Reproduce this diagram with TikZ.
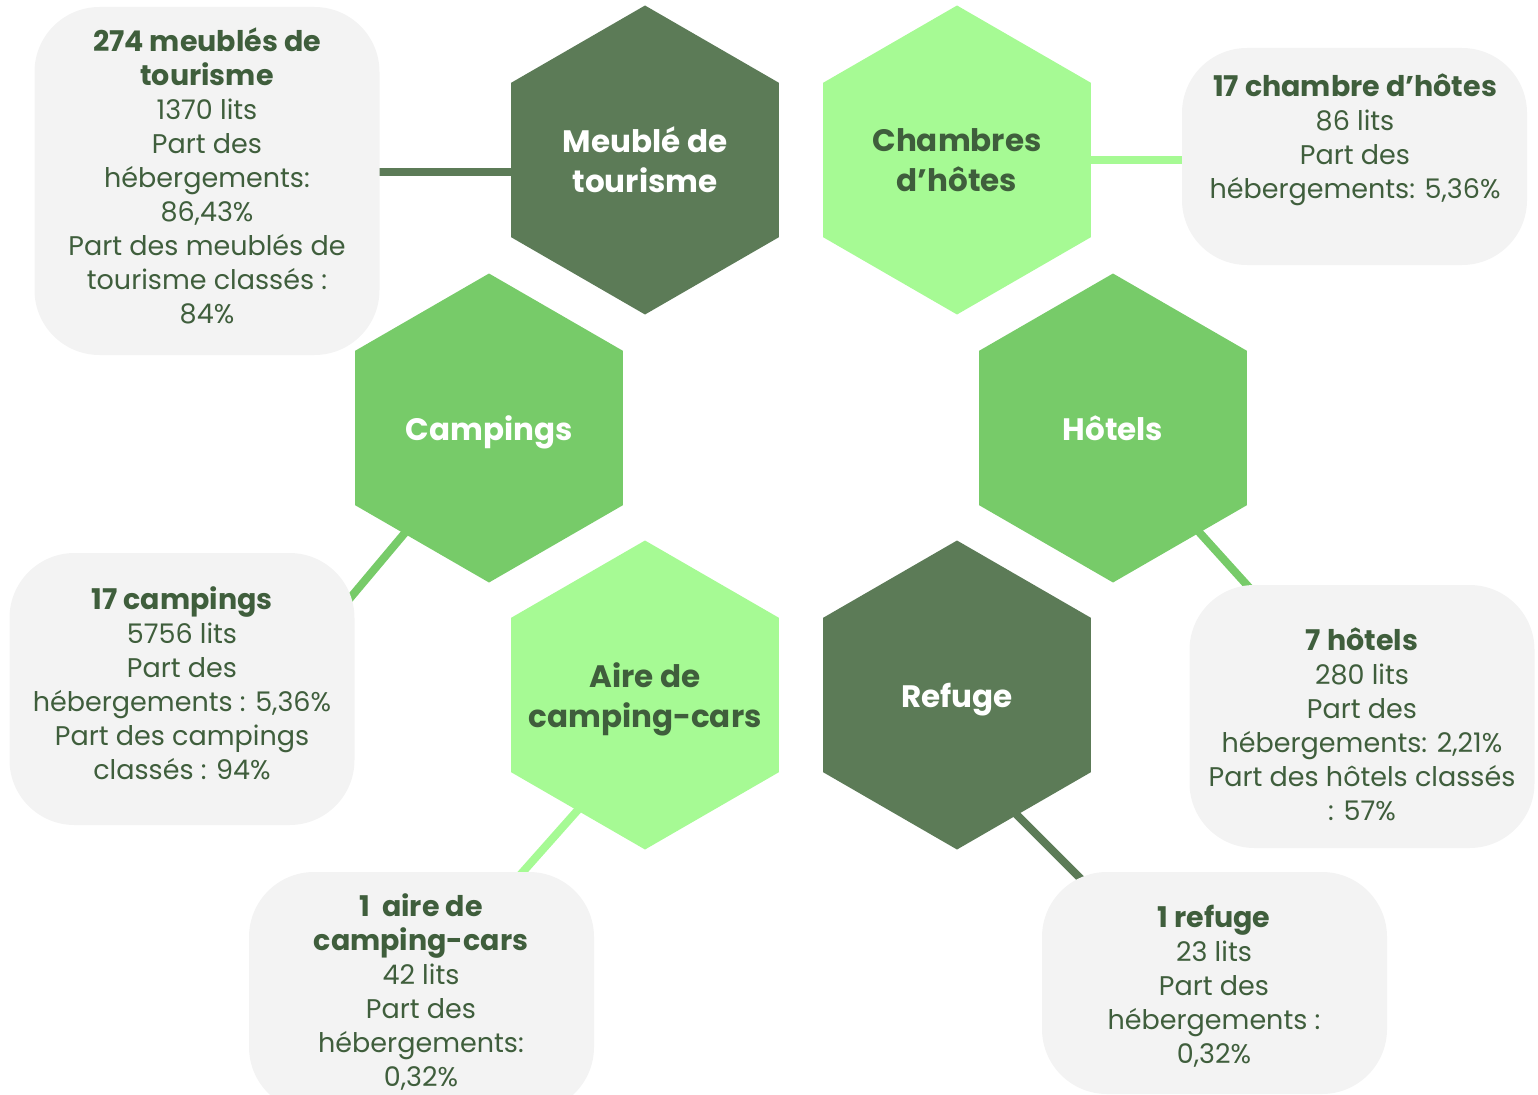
\documentclass[tikz,border=0pt]{standalone}
\usepackage{fontspec}
\setmainfont{Poppins}
\usetikzlibrary{shapes.geometric,backgrounds,calc}
\definecolor{dkg}{HTML}{5C7B57}
\definecolor{ltg}{HTML}{A6FA94}
\definecolor{mdg}{HTML}{77CB69}
\definecolor{boxc}{HTML}{F3F3F3}
\definecolor{txt}{HTML}{3F5E3C}
\newcommand{\zw}[1]{\makebox[0pt]{#1}}
\newcommand{\bt}[1]{{\bfseries\fontsize{28.5}{34}\selectfont #1}}
\begin{document}
\begin{tikzpicture}[x=1pt,y=-1pt,
  hexa/.style={regular polygon, regular polygon sides=6, shape border rotate=30,
    minimum size=309pt, inner sep=0pt, outer sep=0pt, align=center, text depth=0pt,
    font=\bfseries\fontsize{31}{40}\selectfont},
  infobox/.style={fill=boxc, rounded corners=65pt, minimum width=345pt, inner sep=0pt},
  infotxt/.style={align=center, text=txt, inner sep=0pt, font=\fontsize{27}{34}\selectfont},
  conn/.style={line width=8pt}]
\clip (0,0) rectangle (1538,1094);
\useasboundingbox (0,0) rectangle (1538,1094);

% boxes
\node[infobox, minimum height=348pt] (mbox) at (207,181) {};
\node[infobox, minimum height=217pt] (cbox) at (1354.5,156.5) {};
\node[infobox, minimum height=272pt] (kbox) at (182,689) {};
\node[infobox, minimum height=263pt] (hbox) at (1362,716.5) {};
\node[infobox, minimum height=240pt] (abox) at (421.5,992) {};
\node[infobox, minimum height=222pt] (rbox) at (1214.5,983) {};

% texts
\node[infotxt] (mtxt) at (207,176) {\bt{274 meublés de}\\\bt{tourisme}\\1370 lits\\Part des\\hébergements:\\86,43\%\\Part des meublés de\\tourisme classés :\\84\%};
\node[infotxt] (ctxt) at (1355,140) {\bt{17 chambre d’hôtes}\\86 lits\\Part des\\hébergements: 5,36\%};
\node[infotxt] (ktxt) at (182,683) {\bt{17 campings}\\5756 lits\\Part des\\hébergements : 5,36\%\\Part des campings\\classés : 94\%};
\node[infotxt] (htxt) at (1362,724) {\bt{7 hôtels}\\280 lits\\Part des\\hébergements: 2,21\%\\Part des hôtels classés\\: 57\%};
\node[infotxt] (atxt) at (421,992) {\bt{1\ \ aire de}\\\bt{camping-cars}\\42 lits\\Part des\\hébergements:\\0,32\%};
\node[infotxt] (rtxt) at (1214,986) {\bt{1 refuge}\\23 lits\\Part des\\hébergements :\\0,32\%};

% hexagons
\node[hexa, fill=dkg, text=white] (mhex) at (645,160) {\zw{Meublé de}\\\zw{tourisme}};
\node[hexa, fill=ltg, text=txt] (chex) at (957,160) {\zw{Chambres}\\\zw{d’hôtes}};
\node[hexa, fill=mdg, text=white] (khex) at (489,428) {\zw{Campings}};
\node[hexa, fill=mdg, text=white] (hhex) at (1113,428) {\zw{Hôtels}};
\node[hexa, fill=ltg, text=txt] (ahex) at (645,695) {\zw{Aire de}\\\zw{camping-cars}};
\node[hexa, fill=dkg, text=white] (rhex) at (957,695) {\zw{Refuge}};

% connector free ends
\coordinate (k1) at (430,503);
\coordinate (k2) at (330,622);
\coordinate (h1) at (1180,511);
\coordinate (h2) at (1265,605);
\coordinate (a1) at (600,785);
\coordinate (a2) at (505,892);
\coordinate (r1) at (985,783);
\coordinate (r2) at (1100,898);

\begin{scope}[on background layer]
\draw[conn, dkg] ([yshift=-12pt]mhex.center) -- ([yshift=-12pt]mhex.center -| mbox.center);
\draw[conn, ltg] (chex.center) -- (chex.center -| cbox.center);
\draw[conn, mdg] (k1) -- (k2);
\draw[conn, mdg] (h1) -- (h2);
\draw[conn, ltg] (a1) -- (a2);
\draw[conn, dkg] (r1) -- (r2);
\end{scope}
\end{tikzpicture}
\end{document}
